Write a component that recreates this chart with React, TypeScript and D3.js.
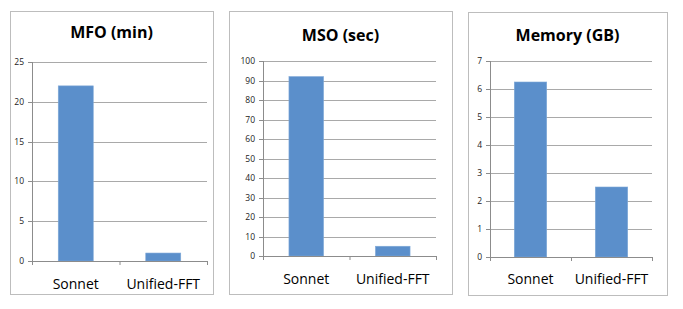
import React from "react";
import * as d3 from "d3";

const categories = ["Sonnet", "Unified-FFT"];
const mfoValues = [22, 1];
const msoValues = [92, 5];
const memoryValues = [6.25, 2.5];
const mfoTicks = [0, 5, 10, 15, 20, 25];
const msoTicks = [0, 10, 20, 30, 40, 50, 60, 70, 80, 90, 100];
const memoryTicks = [0, 1, 2, 3, 4, 5, 6, 7];
const titles = ["MFO (min)", "MSO (sec)", "Memory (GB)"];

const panels = [
  { title: titles[0], values: mfoValues, ticks: mfoTicks, box: [10, 11, 213, 294], x: [32, 207], y: [261, 62], titleY: 38, labelY: 289 },
  { title: titles[1], values: msoValues, ticks: msoTicks, box: [229, 11, 452, 294], x: [263, 436], y: [256, 61], titleY: 41, labelY: 284 },
  { title: titles[2], values: memoryValues, ticks: memoryTicks, box: [468, 12, 667, 295], x: [490, 652], y: [257, 61], titleY: 41, labelY: 284 },
];

const BAR = "#5b8fcb";
const GRID = "#a9a9a9";
const AXIS = "#8c8c8c";

function Panel({ p }: { p: typeof panels[number] }) {
  const yMax = p.ticks[p.ticks.length - 1];
  const y = d3.scaleLinear().domain([0, yMax]).range(p.y);
  const x = d3.scaleBand<string>().domain(categories).range(p.x as [number, number]).paddingInner(0.6).paddingOuter(0.3);
  const step = x.step();
  const [bx0, by0, bx1, by1] = p.box;
  return (
    <g>
      <rect x={bx0 + 0.5} y={by0 + 0.5} width={bx1 - bx0} height={by1 - by0} fill="#fff" stroke="#bdbdbd" strokeWidth={1} />
      <text x={(bx0 + bx1) / 2} y={p.titleY} textAnchor="middle" fontFamily="'Open Sans', sans-serif" fontWeight="bold" fontSize={16} fill="#000">{p.title}</text>
      {p.ticks.map((t) => (
        <g key={t}>
          {t > 0 && <line x1={p.x[0]} x2={p.x[1]} y1={Math.round(y(t)) + 0.5} y2={Math.round(y(t)) + 0.5} stroke={GRID} strokeWidth={1} />}
          <line x1={p.x[0] - 4} x2={p.x[0]} y1={Math.round(y(t)) + 0.5} y2={Math.round(y(t)) + 0.5} stroke={AXIS} strokeWidth={1} />
          <text x={p.x[0] - 8} y={y(t) + 3} textAnchor="end" fontFamily="'Open Sans', sans-serif" fontSize={8.5} fill="#222">{t}</text>
        </g>
      ))}
      {categories.map((c, i) => (
        <rect key={c} x={x(c)!} y={y(p.values[i])} width={x.bandwidth()} height={y(0) - y(p.values[i])} fill={BAR} stroke="#7fa8d8" strokeWidth={0.6} />
      ))}
      <line x1={p.x[0] + 0.5} x2={p.x[0] + 0.5} y1={p.y[1]} y2={p.y[0]} stroke={AXIS} strokeWidth={1} />
      <line x1={p.x[0]} x2={p.x[1]} y1={Math.round(p.y[0]) + 0.5} y2={Math.round(p.y[0]) + 0.5} stroke={AXIS} strokeWidth={1} />
      {[0, 1, 2].map((k) => (
        <line key={k} x1={p.x[0] + k * step + 0.5} x2={p.x[0] + k * step + 0.5} y1={p.y[0]} y2={p.y[0] + 4} stroke={AXIS} strokeWidth={1} />
      ))}
      {categories.map((c) => (
        <text key={c} x={x(c)! + x.bandwidth() / 2} y={p.labelY} textAnchor="middle" fontFamily="'Open Sans', sans-serif" fontSize={14} fill="#000">{c}</text>
      ))}
    </g>
  );
}

export default function App() {
  return (
    <svg width={683} height={309} style={{ position: "absolute", left: 0, top: 0, background: "#fff" }}>
      <rect width={683} height={309} fill="#fff" />
      {panels.map((p) => <Panel key={p.title} p={p} />)}
    </svg>
  );
}
